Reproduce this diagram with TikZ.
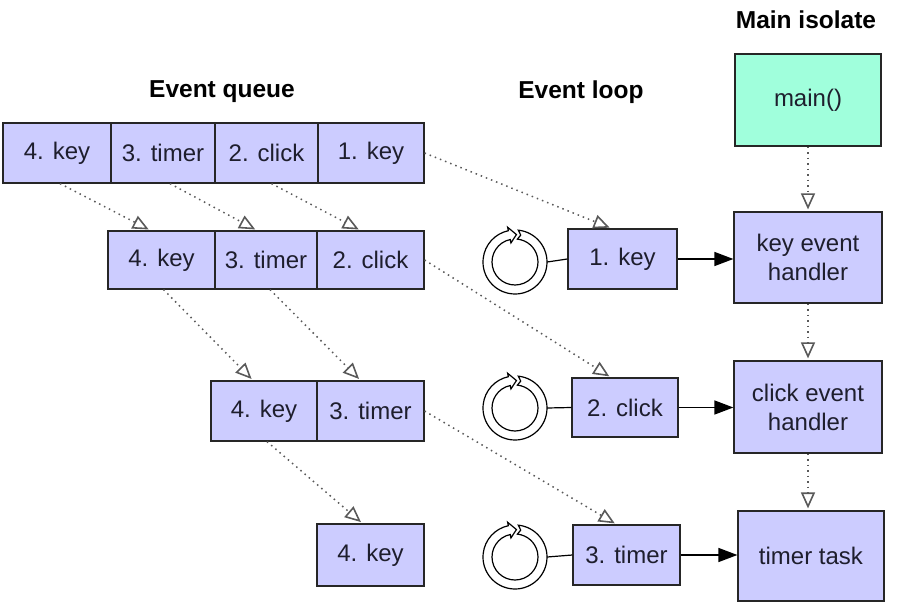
\documentclass[tikz,border=0pt]{standalone}
\usepackage{fontspec}
\setmainfont{Liberation Sans}
\usetikzlibrary{arrows.meta,calc}
\definecolor{qblue}{RGB}{204,204,255}
\definecolor{mgreen}{RGB}{160,255,220}
\definecolor{txt}{RGB}{30,30,45}
\begin{document}
\begin{tikzpicture}[x=1pt,y=1pt,
  box/.style={draw=black!85, line width=1.2pt, fill=qblue, inner sep=0pt,
    font=\fontsize{24}{29}\selectfont, text=txt, align=center},
  titlelbl/.style={font=\bfseries\fontsize{24.5}{28}\selectfont, text=black},
  dotarr/.style={draw=black!65, line width=1.5pt, dash pattern=on 1.5pt off 4pt, shorten >=2pt,
    -{Triangle[open,length=16pt,width=14pt,line width=1.6pt,fill=white]}},
  solidarr/.style={draw=black, line width=1.4pt, -{Triangle[length=19pt,width=14pt]}},
  loopnode/.style={circle, minimum size=64pt, inner sep=0pt, draw=none},
  ring/.style={draw=black, line width=1.2pt, fill=white}
]
\useasboundingbox (0,0) rectangle (922,-604);

% titles
\node[titlelbl] (tq) at (222,-92) {Event queue};
\node[titlelbl] (tl) at (581,-92) {Event loop};
\node[titlelbl] (tm) at (806,-20) {Main isolate};

% queue row 1
\node[box, minimum width=108pt, minimum height=60pt] (r1a) at (57,-153) {4. key};
\node[box, minimum width=104pt, minimum height=60pt] (r1b) at (163,-153) {3. timer};
\node[box, minimum width=103pt, minimum height=60pt] (r1c) at (266.5,-153) {2. click};
\node[box, minimum width=106pt, minimum height=60pt] (r1d) at (371,-153) {1. key};
% row 2
\node[box, minimum width=107pt, minimum height=58pt] (r2a) at (161.5,-260) {4. key};
\node[box, minimum width=102pt, minimum height=58pt] (r2b) at (266,-260) {3. timer};
\node[box, minimum width=107pt, minimum height=58pt] (r2c) at (370.5,-260) {2. click};
% row 3
\node[box, minimum width=106pt, minimum height=60pt] (r3a) at (264,-411) {4. key};
\node[box, minimum width=107pt, minimum height=60pt] (r3b) at (370.5,-411) {3. timer};
% row 4
\node[box, minimum width=107pt, minimum height=62pt] (r4a) at (370.5,-555) {4. key};

% event loop boxes
\node[box, minimum width=109pt, minimum height=60pt] (l1) at (622.5,-259) {1. key};
\node[box, minimum width=106pt, minimum height=59pt] (l2) at (625,-407.5) {2. click};
\node[box, minimum width=107pt, minimum height=60pt] (l3) at (626.5,-555) {3. timer};

% main isolate boxes
\node[box, fill=mgreen, minimum width=146pt, minimum height=92pt] (mn) at (808,-100) {main()};
\node[box, minimum width=148pt, minimum height=91pt] (kh) at (808,-257.5) {key event\\handler};
\node[box, minimum width=148pt, minimum height=92pt] (ch) at (808,-407) {click event\\handler};
\node[box, minimum width=146pt, minimum height=90pt] (tt) at (811,-556) {timer task};

% loop icons
\foreach \n/\y in {o1/-262, o2/-408, o3/-557}{
  \node[loopnode] (\n) at (515,\y) {};
  \begin{scope}[shift={(\n.center)}]
    \path[ring] (84:32) arc[start angle=84, end angle=-258, radius=32]
      -- (102:35.5) -- (87:27.5) -- (102:19.5) -- (102:23)
      arc[start angle=102, end angle=444, radius=23]
      -- (78:27.5) -- cycle;
  \end{scope}
}
\draw[line width=1.2pt] (o1.east) -- (l1.west);
\draw[line width=1.2pt] (o2.east) -- (l2.west);
\draw[line width=1.2pt] (o3.east) -- (l3.west);

% solid arrows to handlers
\draw[solidarr] (l1.east) -- (l1.east -| kh.west);
\draw[solidarr] (l2.east) -- (l2.east -| ch.west);
\draw[solidarr] (l3.east) -- (l3.east -| tt.west);

% dotted arrows within the queue
\draw[dotarr] ($(r1a.south)+(3,0)$) -- ($(r2a.north)+(-11,0)$);
\draw[dotarr] ($(r1b.south)+(7,0)$) -- ($(r2b.north)+(-9,0)$);
\draw[dotarr] ($(r1c.south)+(5,0)$) -- ($(r2c.north)+(-10,0)$);
\draw[dotarr] ($(r2a.south)+(2,0)$) -- ($(r3a.north)+(-11,0)$);
\draw[dotarr] ($(r2b.south)+(4,0)$) -- ($(r3b.north)+(-10,0)$);
\draw[dotarr] ($(r3a.south)+(3,0)$) -- ($(r4a.north)+(-8,0)$);

% dotted arrows to the loop
\draw[dotarr] (r1d.east) -- ($(l1.north)+(-11,0)$);
\draw[dotarr] (r2c.east) -- ($(l2.north)+(-14,0)$);
\draw[dotarr] (r3b.east) -- ($(l3.north)+(-10,0)$);

% dotted arrows in main isolate
\draw[dotarr] (mn.south) -- (kh.north);
\draw[dotarr] (kh.south) -- (ch.north);
\draw[dotarr] (ch.south) -- (ch.south |- tt.north);
\end{tikzpicture}
\end{document}
